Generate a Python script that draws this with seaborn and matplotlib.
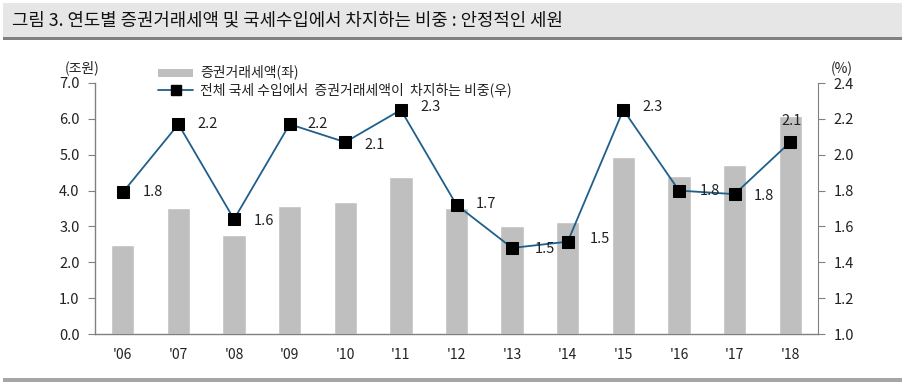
import numpy as np
import pandas as pd
import matplotlib
matplotlib.use('Agg')
import matplotlib.pyplot as plt
import seaborn as sns
from matplotlib.patches import Rectangle
from matplotlib.lines import Line2D

# data
years = ["'06", "'07", "'08", "'09", "'10", "'11", "'12", "'13", "'14", "'15", "'16", "'17", "'18"]
tax_amount = [2.48, 3.52, 2.76, 3.57, 3.68, 4.37, 3.52, 3.01, 3.12, 4.93, 4.40, 4.71, 6.08]   # 조원 (left)
tax_share = [1.79, 2.17, 1.64, 2.17, 2.07, 2.25, 1.72, 1.48, 1.515, 2.25, 1.80, 1.78, 2.07]   # % (right)
share_labels = ['1.8', '2.2', '1.6', '2.2', '2.1', '2.3', '1.7', '1.5', '1.5', '2.3', '1.8', '1.8', '2.1']

sns.set_style('white')
plt.rcParams['font.family'] = ['Noto Sans CJK KR', 'DejaVu Sans']

df = pd.DataFrame({'year': years, 'amount': tax_amount, 'share': tax_share, 'idx': np.arange(len(years))})

W, H = 903, 386
fig = plt.figure(figsize=(W / 100, H / 100), dpi=100)
ax = fig.add_axes([95 / W, 1 - 334 / H, (818 - 95) / W, (334 - 83) / H])

sns.barplot(data=df, x='year', y='amount', color='#BFBFBF', width=0.42, saturation=1, ax=ax)
ax.set_xlim(-0.5, len(years) - 0.5)
ax.set_ylim(0, 7)
ax.set_yticks(np.arange(0, 7.1, 1.0))
ax.set_yticklabels([f'{v:.1f}' for v in np.arange(0, 7.1, 1.0)])
ax.set_xlabel('')
ax.set_ylabel('')

grey = '#808080'
txt = '#222222'
for s in ['top', 'right']:
    ax.spines[s].set_visible(False)
for s in ['left', 'bottom']:
    ax.spines[s].set_color(grey)
    ax.spines[s].set_linewidth(1.0)
# x ticks sit between categories
ax.set_xticks(np.arange(len(years)))
ax.set_xticks(np.arange(-0.5, len(years), 1.0), minor=True)
ax.tick_params(axis='x', which='major', length=0, pad=10, labelsize=10, colors=txt)
ax.tick_params(axis='x', which='minor', length=5, color=grey, direction='out')
ax.tick_params(axis='y', length=5, color=grey, direction='out', labelsize=10.5, labelcolor=txt, pad=6)

ax2 = ax.twinx()
sns.lineplot(data=df, x='idx', y='share', color='#1F5F8B', linewidth=1.3, marker='s',
             markersize=8.5, markerfacecolor='black', markeredgecolor='black', ax=ax2)
ax2.set_ylim(1.0, 2.4)
ax2.set_yticks(np.arange(1.0, 2.41, 0.2))
ax2.set_yticklabels([f'{v:.1f}' for v in np.arange(1.0, 2.41, 0.2)])
ax2.set_xlim(-0.5, len(years) - 0.5)
ax2.set_xlabel('')
ax2.set_ylabel('')
for s in ['top', 'left', 'bottom']:
    ax2.spines[s].set_visible(False)
ax2.spines['right'].set_color(grey)
ax2.tick_params(axis='y', length=5, color=grey, direction='out', labelsize=10.5, labelcolor=txt, pad=6)

# value labels (offsets in points)
offsets = [(14, 0), (14, 0), (14, -1), (13, 0), (14, -2), (14, 2), (14, 1), (16, -1), (16, 2),
           (14, 2), (15, 0), (14, -1), (-6, 15)]
for i, (v, lab) in enumerate(zip(tax_share, share_labels)):
    dx, dy = offsets[i]
    ax2.annotate(lab, (i, v), xytext=(dx, dy), textcoords='offset points',
                 ha='left', va='center', fontsize=10.5, color=txt)

# unit labels
fig.text(82 / W, 1 - 68 / H, '(조원)', ha='center', va='center', fontsize=10, color=txt)
fig.text(842 / W, 1 - 69 / H, '(%)', ha='center', va='center', fontsize=10, color=txt)

# legend drawn by hand
fig.patches.append(Rectangle((158 / W, 1 - 77 / H), 35 / W, 8 / H, transform=fig.transFigure,
                             facecolor='#BFBFBF', edgecolor='none'))
fig.text(200 / W, 1 - 72 / H, '증권거래세액(좌)', ha='left', va='center', fontsize=10, color=txt)
fig.lines.append(Line2D([158 / W, 193 / W], [1 - 90 / H, 1 - 90 / H], transform=fig.transFigure,
                        color='#1F5F8B', linewidth=1.3))
fig.lines.append(Line2D([176 / W], [1 - 90 / H], transform=fig.transFigure, marker='s',
                        markersize=6.5, color='black'))
fig.text(200 / W, 1 - 90 / H, '전체 국세 수입에서  증권거래세액이  차지하는 비중(우)',
         ha='left', va='center', fontsize=10, color=txt)

# title bar
fig.patches.append(Rectangle((3 / W, 1 - 37 / H), 900 / W, 34 / H, transform=fig.transFigure,
                             facecolor='#E6E6E6', edgecolor='none', zorder=0))
fig.patches.append(Rectangle((3 / W, 1 - 40 / H), 900 / W, 3 / H, transform=fig.transFigure,
                             facecolor='#808080', edgecolor='none'))
fig.text(12 / W, 1 - 20 / H, '그림 3. 연도별 증권거래세액 및 국세수입에서 차지하는 비중 : 안정적인 세원',
         ha='left', va='center', fontsize=12.8, color='#111111')
fig.patches.append(Rectangle((3 / W, 1 - 382 / H), 900 / W, 4 / H, transform=fig.transFigure,
                             facecolor='#A6A6A6', edgecolor='none'))

fig.savefig('out.png', dpi=100)
